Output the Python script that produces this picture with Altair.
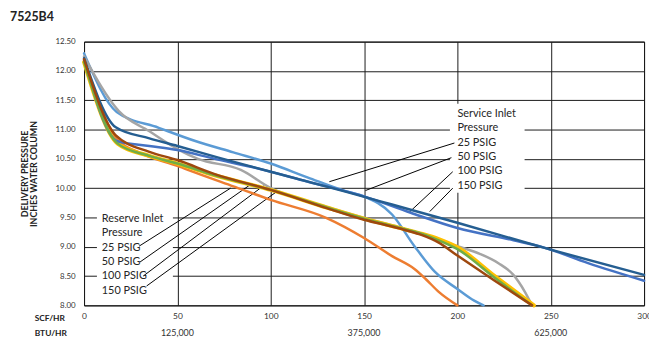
import altair as alt
import pandas as pd

FONT = "Lato"

# ---- axes -------------------------------------------------------------
x_ticks = [0, 50, 100, 150, 200, 250, 300]
y_ticks = [8.0, 8.5, 9.0, 9.5, 10.0, 10.5, 11.0, 11.5, 12.0, 12.5]
btu_pos = [50, 150, 250]
btu_labels = ["125,000", "375,000", "625,000"]

# ---- series (SCF/HR, inches water column) -------------------------------
light_blue_x = [0, 17.5, 40, 60, 80, 100, 120, 140, 150, 165, 177, 188, 200, 209, 214]
light_blue_y = [12.30, 11.30, 11.03, 10.80, 10.61, 10.42, 10.18, 9.95, 9.86, 9.55, 9.01, 8.57, 8.28, 8.08, 8.00]

orange_x = [0, 17, 30, 50, 60, 80, 100, 130, 150, 165, 177, 183, 190, 200]
orange_y = [12.18, 10.86, 10.60, 10.38, 10.26, 10.03, 9.80, 9.49, 9.15, 8.84, 8.62, 8.45, 8.23, 8.00]

gray_x = [0, 18.5, 35, 51, 61, 84, 100, 130, 150, 170, 185, 200, 212, 222, 230, 236, 240]
gray_y = [12.25, 11.32, 10.97, 10.65, 10.50, 10.31, 10.00, 9.68, 9.49, 9.32, 9.18, 9.01, 8.88, 8.72, 8.52, 8.24, 8.00]

yellow_x = [0, 18, 35, 50, 70, 100, 130, 150, 168, 180, 190, 200, 220, 241]
yellow_y = [12.15, 10.76, 10.55, 10.42, 10.22, 9.97, 9.67, 9.48, 9.33, 9.23, 9.13, 8.99, 8.50, 8.00]

mid_blue_x = [0, 18, 35, 50, 70, 90, 120, 150, 175, 200, 230, 246, 270, 300]
mid_blue_y = [12.20, 10.80, 10.72, 10.65, 10.50, 10.36, 10.11, 9.86, 9.58, 9.32, 9.11, 8.99, 8.72, 8.42]

green_x = [0, 18, 35, 50, 70, 100, 130, 150, 168, 180, 190, 200, 220, 240]
green_y = [12.15, 10.76, 10.55, 10.42, 10.22, 9.97, 9.67, 9.48, 9.33, 9.23, 9.11, 8.96, 8.47, 8.00]

navy_x = [0, 17, 35, 50, 72, 100, 140, 165, 200, 250, 300]
navy_y = [12.22, 11.04, 10.85, 10.72, 10.52, 10.28, 9.94, 9.72, 9.41, 8.95, 8.52]

brown_x = [0, 17, 35, 50, 70, 100, 130, 150, 168, 180, 190, 200, 220, 240]
brown_y = [12.20, 10.90, 10.62, 10.48, 10.24, 9.97, 9.66, 9.46, 9.32, 9.21, 9.07, 8.85, 8.42, 8.00]

series = [
    ("S1", light_blue_x, light_blue_y, "#5B9BD5", 2.5),
    ("S2", orange_x, orange_y, "#ED7D31", 2.5),
    ("S3", gray_x, gray_y, "#A5A5A5", 2.5),
    ("S4", yellow_x, yellow_y, "#FFC000", 4.0),
    ("S5", mid_blue_x, mid_blue_y, "#4472C4", 2.5),
    ("S6", green_x, green_y, "#70AD47", 2.5),
    ("S7", navy_x, navy_y, "#255E91", 2.5),
    ("S8", brown_x, brown_y, "#9E480E", 2.5),
]

# ---- annotations ----------------------------------------------------------
reserve_text = ["Reserve Inlet", "Pressure", "25 PSIG", "50 PSIG", "100 PSIG", "150 PSIG"]
reserve_text_x = [9.5] * 6
reserve_text_y = [9.48, 9.23, 8.97, 8.74, 8.50, 8.25]

service_text = ["Service Inlet", "Pressure", "25 PSIG", "50 PSIG", "100 PSIG", "150 PSIG"]
service_text_x = [200.0] * 6
service_text_y = [11.27, 11.02, 10.77, 10.53, 10.29, 10.04]

# leader lines: start (x, y) -> end (x2, y2)
leader_x = [29.5, 30.0, 31.7, 33.5, 198.4, 196.8, 197.5, 197.5]
leader_y = [9.01, 8.74, 8.50, 8.33, 10.77, 10.52, 10.28, 10.00]
leader_x2 = [78.5, 90.0, 96.1, 102.3, 131.4, 150.8, 174.6, 185.2]
leader_y2 = [10.00, 10.08, 10.04, 9.92, 10.11, 9.96, 9.60, 9.60]

# white label backgrounds
box_x = [6.9, 196.0]
box_x2 = [47.6, 236.0]
box_y = [8.11, 9.92]
box_y2 = [9.72, 11.44]

W, H = 567, 267

xs = alt.Scale(domain=[0, 300], nice=False, zero=False)
ys = alt.Scale(domain=[8.0, 12.5], nice=False, zero=False)

x_axis = alt.Axis(values=x_ticks, grid=True, ticks=False, domain=False, title=None,
                  labelPadding=6, labelFontSize=8.5, labelColor="#333333", labelFont=FONT,
                  gridColor="#1a1a1a", gridWidth=1, labelFlush=False)
y_axis = alt.Axis(values=y_ticks, format=".2f", grid=True, ticks=False, domain=False,
                  labelPadding=9, labelFontSize=8, labelColor="#333333", labelFont=FONT,
                  gridColor="#1a1a1a", gridWidth=1,
                  title=["DELIVERY PRESSURE", "INCHES WATER COLUMN"],
                  titleFontSize=9, titleFont=FONT, titleFontWeight="bold",
                  titleColor="#222222", titleLineHeight=9,
                  titleX=-60, titleY=H / 2, titleAngle=270,
                  titleAlign="center", titleBaseline="middle")


def X(field="x:Q"):
    return alt.X(field, scale=xs, axis=x_axis)


def Y(field="y:Q"):
    return alt.Y(field, scale=ys, axis=y_axis)


layers = []

boxes = pd.DataFrame({"x": box_x, "x2": box_x2, "y": box_y, "y2": box_y2})
layers.append(
    alt.Chart(boxes).mark_rect(fill="white").encode(
        x=X(), x2="x2:Q", y=Y(), y2="y2:Q",
    )
)

leaders = pd.DataFrame({"x": leader_x, "y": leader_y, "x2": leader_x2, "y2": leader_y2})
layers.append(
    alt.Chart(leaders).mark_rule(color="#000000", strokeWidth=1).encode(
        x=X(), x2="x2:Q", y=Y(), y2="y2:Q",
    )
)

for name, sx, sy, col, sw in series:
    df = pd.DataFrame({"x": sx, "y": sy})
    layers.append(
        alt.Chart(df).mark_line(color=col, strokeWidth=sw, interpolate="monotone",
                                strokeJoin="round", strokeCap="round").encode(
            x=X(), y=Y(),
        )
    )

ann = pd.DataFrame({
    "x": reserve_text_x + service_text_x,
    "y": reserve_text_y + service_text_y,
    "t": reserve_text + service_text,
})
layers.append(
    alt.Chart(ann).mark_text(align="left", baseline="middle", font=FONT, fontSize=11,
                             color="#262626").encode(
        x=X(), y=Y(), text="t:N",
    )
)

btu = pd.DataFrame({"x": btu_pos, "t": btu_labels})
layers.append(
    alt.Chart(btu).mark_text(align="center", baseline="middle", font=FONT, fontSize=9,
                             color="#333333").encode(
        x=X(), y=alt.value(H + 28), text="t:N",
    )
)

unit_labels = pd.DataFrame({"t": ["SCF/HR", "BTU/HR"], "yy": [H + 13, H + 28]})
layers.append(
    alt.Chart(unit_labels).mark_text(align="left", baseline="middle", font=FONT, fontSize=8.5,
                                     fontWeight="bold", color="#222222").encode(
        x=alt.value(-50),
        y=alt.Y("yy:Q", scale=None, axis=None),
        text="t:N",
    )
)

title_df = pd.DataFrame({"t": ["7525B4"]})
layers.append(
    alt.Chart(title_df).mark_text(align="left", baseline="middle", font=FONT, fontSize=12.5,
                                  fontWeight="bold", color="#222222").encode(
        x=alt.value(-75), y=alt.value(-25), text="t:N",
    )
)

chart = alt.layer(*layers).properties(
    width=W, height=H,
    autosize=alt.AutoSizeParams(type="none"),
    padding={"left": 77, "top": 32, "right": 5, "bottom": 32},
).configure(
    background="white",
    view=alt.ViewConfig(stroke="#000000", strokeWidth=1),
)

chart.save("out.html", embed_options={"renderer": "svg", "actions": False})
